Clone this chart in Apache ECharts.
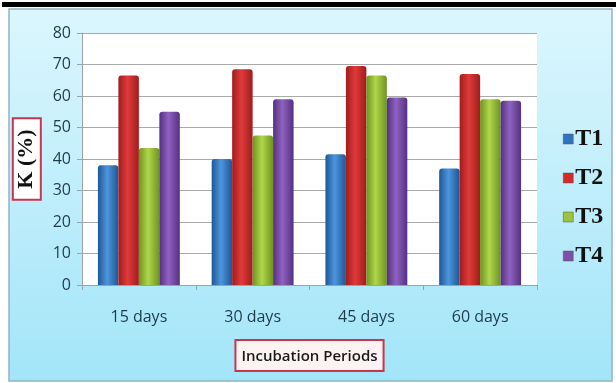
<!DOCTYPE html>
<html>
<head>
<meta charset="utf-8">
<script src="https://cdn.jsdelivr.net/npm/echarts@6/dist/echarts.min.js"></script>
<style>
html,body{margin:0;padding:0;background:#fff;}
#c{width:616px;height:383px;}
</style>
</head>
<body>
<div id="c"></div>
<script>
var categories = ['15 days', '30 days', '45 days', '60 days'];
var seriesNames = ['T1', 'T2', 'T3', 'T4'];
var t1 = [38, 40, 41.5, 37];
var t2 = [66.5, 68.5, 69.5, 67];
var t3 = [43.5, 47.5, 66.5, 59];
var t4 = [55, 59, 59.5, 58.5];
var yTicks = [0, 10, 20, 30, 40, 50, 60, 70, 80];

var palette = [
  ['#1d5797', '#4e95dc', '#1d5797'],
  ['#a01c1c', '#e03a3a', '#a01c1c'],
  ['#6f9420', '#b0d64a', '#6f9420'],
  ['#553081', '#8f62c0', '#553081']
];
var legendColors = ['#2f74c0', '#d42a2a', '#9bc43a', '#7c4fa8'];

function grad(c) {
  return new echarts.graphic.LinearGradient(0, 0, 1, 0, [
    {offset: 0, color: c[0]},
    {offset: 0.45, color: c[1]},
    {offset: 1, color: c[2]}
  ]);
}

var data = [t1, t2, t3, t4];
var series = seriesNames.map(function (n, i) {
  return {
    name: n,
    type: 'bar',
    data: data[i],
    barGap: '0%',
    barCategoryGap: '28%',
    itemStyle: {color: grad(palette[i]), borderRadius: [3, 3, 0, 0]},
    emphasis: {disabled: true}
  };
});

var chart = echarts.init(document.getElementById('c'), null, {renderer: 'canvas'});
chart.setOption({
  animation: false,
  color: legendColors,
  graphic: [
    {type: 'rect', z: -10, silent: true, shape: {x: 2, y: 2, width: 614, height: 5}, style: {fill: '#000'}},
    {type: 'rect', z: -10, silent: true, shape: {x: 9, y: 9, width: 603, height: 372},
      style: {
        fill: new echarts.graphic.LinearGradient(0, 0, 0, 1, [
          {offset: 0, color: '#dcf6fd'},
          {offset: 1, color: '#a2e5f9'}
        ]),
        stroke: '#8fb5c2', lineWidth: 1.5
      }}
  ],
  grid: {left: 82, right: 79, top: 33, bottom: 98, show: true, backgroundColor: '#ffffff', borderWidth: 0},
  legend: {
    orient: 'vertical',
    left: 558, top: 122,
    itemWidth: 10, itemHeight: 10,
    itemGap: 15,
    icon: 'rect',
    textStyle: {fontFamily: 'Liberation Serif', fontWeight: 'bold', fontSize: 24, color: '#111', lineHeight: 24, padding: [0, 0, 0, -3]},
    data: seriesNames.map(function (n, i) { return {name: n, itemStyle: {color: legendColors[i], borderColor: '#556', borderWidth: 0.5}}; })
  },
  xAxis: {
    type: 'category',
    data: categories,
    axisLine: {lineStyle: {color: '#9aa4a8'}},
    axisTick: {show: true, length: 5, lineStyle: {color: '#9aa4a8'}},
    axisLabel: {fontFamily: 'Open Sans', fontSize: 16, color: '#1e3b4a', margin: 24},
    name: 'Incubation Periods',
    nameLocation: 'middle',
    nameGap: 56,
    nameTextStyle: {
      fontFamily: 'Open Sans', fontWeight: 600, fontSize: 15, color: '#1a1a1a',
      backgroundColor: '#fdf3f3', borderColor: '#c8364e', borderWidth: 2,
      padding: [8, 5, 6, 5]
    }
  },
  yAxis: {
    type: 'value',
    min: yTicks[0], max: yTicks[yTicks.length - 1], interval: 10,
    axisLine: {show: true, lineStyle: {color: '#9aa4a8'}},
    axisTick: {show: true, length: 5, lineStyle: {color: '#9aa4a8'}},
    splitLine: {lineStyle: {color: '#a9a9a9', width: 1}},
    axisLabel: {fontFamily: 'Open Sans', fontSize: 16, color: '#1e3b4a', margin: 11},
    name: 'K (%)',
    nameLocation: 'middle',
    nameRotate: 90,
    nameGap: 42,
    nameTextStyle: {
      fontFamily: 'Liberation Serif', fontWeight: 'bold', fontSize: 22, color: '#111',
      backgroundColor: '#ffffff', borderColor: '#c8364e', borderWidth: 2,
      padding: [2, 10, 2, 10]
    }
  },
  series: series
});
</script>
</body>
</html>
